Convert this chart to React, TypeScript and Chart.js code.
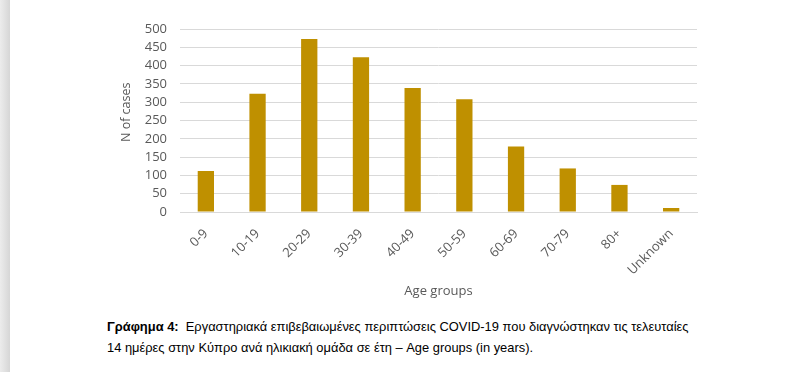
import React, { useEffect, useRef } from "react";
import { Chart, registerables } from "chart.js";

Chart.register(...registerables);

const categories = ["0-9", "10-19", "20-29", "30-39", "40-49", "50-59", "60-69", "70-79", "80+", "Unknown"];
const cases = [112, 323, 473, 423, 339, 308, 179, 119, 74, 11];
const yTicks = [0, 50, 100, 150, 200, 250, 300, 350, 400, 450, 500];
const xTitle = "Age groups";
const yTitle = "N of cases";

const FONT = "'Open Sans', 'DejaVu Sans', sans-serif";
const GREY = "#595959";

const yTitlePlugin = {
  id: "yTitlePlugin",
  afterDraw(chart: any) {
    const { ctx, chartArea } = chart;
    const ys = chart.scales.y;
    ctx.save();
    ctx.font = `12.5px ${FONT}`;
    ctx.fillStyle = GREY;
    ctx.textAlign = "center";
    ctx.textBaseline = "middle";
    const x = ys.left + 126;
    const y = chartArea.top + (chartArea.bottom - chartArea.top) * 0.455;
    ctx.translate(x, y);
    ctx.rotate(-Math.PI / 2);
    ctx.fillText(yTitle, 0, 0);
    ctx.restore();
  },
};

export default function App() {
  const ref = useRef<HTMLCanvasElement | null>(null);

  useEffect(() => {
    if (!ref.current) return;
    const chart = new Chart(ref.current, {
      type: "bar",
      data: {
        labels: categories,
        datasets: [
          {
            data: cases,
            backgroundColor: "#BF9000",
            borderWidth: 0,
            categoryPercentage: 1,
            barPercentage: 0.315,
          },
        ],
      },
      options: {
        responsive: false,
        animation: false,
        layout: { padding: { left: 0, top: 29, right: 106, bottom: 0 } },
        plugins: { legend: { display: false }, tooltip: { enabled: false } },
        scales: {
          x: {
            grid: { display: false },
            border: { display: true, color: "#d9d9d9", width: 1 },
            ticks: {
              color: GREY,
              font: { family: FONT, size: 13 },
              minRotation: 45,
              maxRotation: 45,
              autoSkip: false,
              padding: 6,
            },
            title: {
              display: true,
              text: xTitle,
              color: GREY,
              font: { family: FONT, size: 13 },
              padding: { top: 4, bottom: 4 },
            },
            afterFit: (s: any) => {
              s.height = 91;
            },
          },
          y: {
            min: 0,
            max: 500,
            afterBuildTicks: (s: any) => {
              s.ticks = yTicks.map((v) => ({ value: v }));
            },
            grid: { color: "#d9d9d9", drawTicks: false, lineWidth: 1 },
            border: { display: false },
            ticks: {
              color: GREY,
              font: { family: FONT, size: 13 },
              padding: 13,
              autoSkip: false,
            },
            afterFit: (s: any) => {
              s.width = 180;
            },
          },
        },
      },
      plugins: [yTitlePlugin],
    });
    return () => chart.destroy();
  }, []);

  return (
    <div
      style={{
        position: "absolute",
        left: 0,
        top: 0,
        width: 803,
        height: 372,
        background: "#ffffff",
        overflow: "hidden",
      }}
    >
      <div
        style={{
          position: "absolute",
          left: 0,
          top: 0,
          width: 10,
          height: 372,
          background: "linear-gradient(to right, #ececec, #d6d6d6)",
        }}
      />
      <canvas
        ref={ref}
        width={803}
        height={303}
        style={{ position: "absolute", left: 0, top: 0, width: 803, height: 303 }}
      />
      <div
        style={{
          position: "absolute",
          left: 107,
          top: 316,
          fontFamily: "'Liberation Sans', Arial, sans-serif",
          fontSize: 12.9,
          lineHeight: "21px",
          color: "#000",
          whiteSpace: "pre",
        }}
      >
        <div>
          <b>Γράφημα 4:</b>
          {"  Εργαστηριακά επιβεβαιωμένες περιπτώσεις COVID-19 που διαγνώστηκαν τις τελευταίες"}
        </div>
        <div>14 ημέρες στην Κύπρο ανά ηλικιακή ομάδα σε έτη – Age groups (in years).</div>
      </div>
    </div>
  );
}
